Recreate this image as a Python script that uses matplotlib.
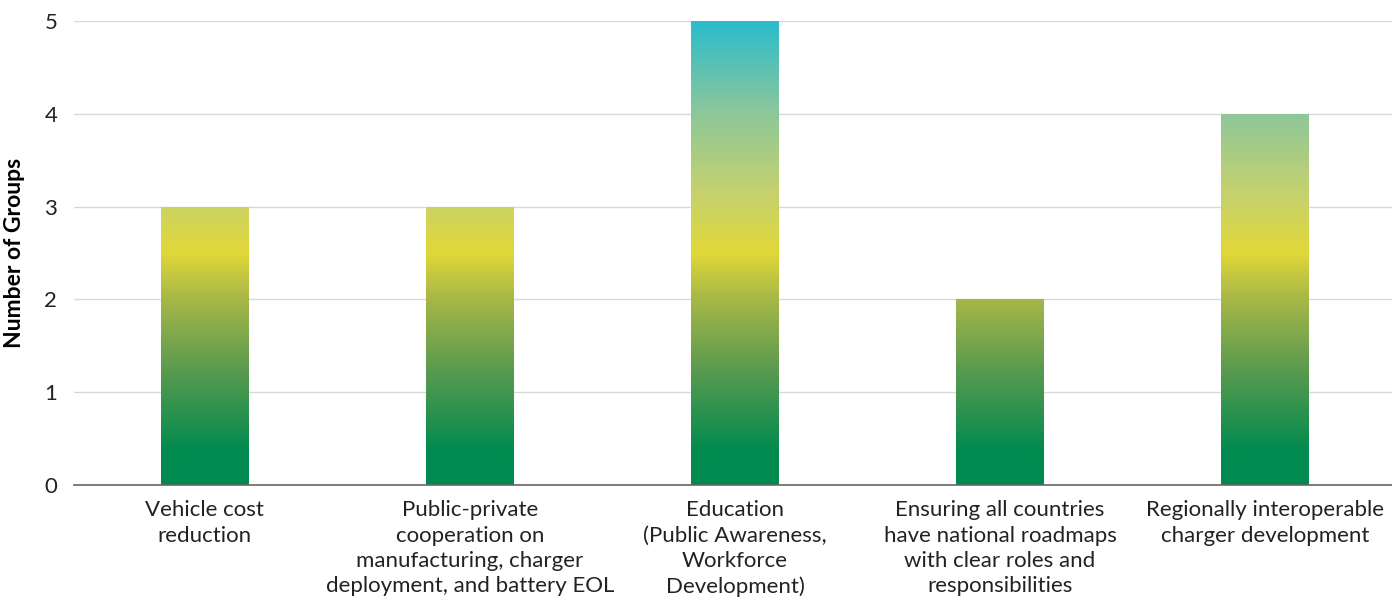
import numpy as np
import matplotlib
matplotlib.use("Agg")
import matplotlib.pyplot as plt
from matplotlib.colors import LinearSegmentedColormap, Normalize

# Data
categories = [
    "Vehicle cost\nreduction",
    "Public-private\ncooperation on\nmanufacturing, charger\ndeployment, and battery EOL",
    "Education\n(Public Awareness,\nWorkforce\nDevelopment)",
    "Ensuring all countries\nhave national roadmaps\nwith clear roles and\nresponsibilities",
    "Regionally interoperable\ncharger development",
]
groups = [3, 3, 5, 2, 4]
y_ticks = [0, 1, 2, 3, 4, 5]

plt.rcParams['font.family'] = ['Lato', 'DejaVu Sans']

# gradient tied to the y scale (0..5)
cmap = LinearSegmentedColormap.from_list("evgrad", [
    (0.00, "#008a50"),
    (0.07, "#008a50"),
    (0.25, "#5c9b4f"),
    (0.40, "#a7b747"),
    (0.50, "#e0d838"),
    (0.62, "#c8d26c"),
    (0.80, "#8ec79a"),
    (1.00, "#2bbccc"),
])
norm = Normalize(0, 5)

fig = plt.figure(figsize=(13.92, 5.98), dpi=100)
ax = fig.add_axes([74 / 1392, 113 / 598, 1 - 74 / 1392, 464 / 598])

x = np.arange(len(categories))
bar_w = 0.33
bars = ax.bar(x, groups, width=bar_w, color="none", edgecolor="none", zorder=2)

grad = np.linspace(0, 5, 400).reshape(-1, 1)
for b in bars:
    x0 = b.get_x()
    im = ax.imshow(grad, cmap=cmap, norm=norm, origin="lower", aspect="auto",
                   extent=(x0, x0 + b.get_width(), 0, 5), zorder=2)
    im.set_clip_path(b)

ax.set_xlim(-0.494, 4.479)
ax.set_ylim(0, 5)
ax.set_yticks(y_ticks)
ax.set_yticklabels([str(v) for v in y_ticks], fontsize=16, color="#222222")
ax.set_xticks(x)
ax.set_xticklabels(categories, fontsize=16, color="#222222", linespacing=1.33)
ax.tick_params(axis="both", length=0)
ax.tick_params(axis="x", pad=11)
ax.tick_params(axis="y", pad=12)

ax.grid(axis="y", color="#d9d9d9", linewidth=1, zorder=0)
ax.set_axisbelow(True)
for s in ["top", "right", "left"]:
    ax.spines[s].set_visible(False)
ax.spines["bottom"].set_color("#666666")
ax.spines["bottom"].set_linewidth(1.2)
ax.spines["bottom"].set_zorder(3)

ax.set_ylabel("Number of Groups", fontsize=16.5, fontweight="bold", labelpad=14)

fig.savefig("out.png", dpi=100)
